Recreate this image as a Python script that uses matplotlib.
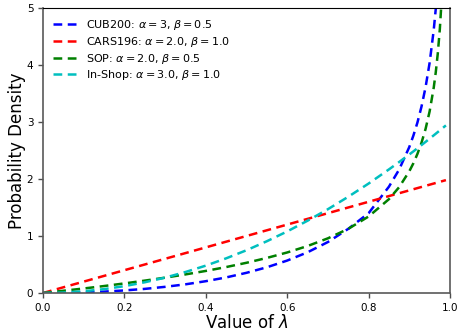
import matplotlib
matplotlib.use('Agg')
import matplotlib.pyplot as plt

# ------------------------------------------------------------
# values
# ------------------------------------------------------------
lam = [0.0, 0.05, 0.10, 0.15, 0.20, 0.25, 0.30, 0.35, 0.40, 0.45,
       0.50, 0.55, 0.60, 0.65, 0.70, 0.75, 0.80, 0.85, 0.875, 0.90,
       0.91, 0.92, 0.93, 0.94, 0.95, 0.96, 0.965, 0.97, 0.975, 0.98,
       0.985, 0.99]

cub200 = [0.0, 0.003, 0.011, 0.024, 0.045, 0.072, 0.108, 0.152, 0.207, 0.273,
          0.354, 0.451, 0.569, 0.714, 0.894, 1.125, 1.40, 1.865, 2.165, 2.56,
          2.76, 2.99, 3.27, 3.61, 4.04, 4.61, 4.98, 5.43, 6.01, 6.79,
          7.92, 9.80]
cars196 = [0.0, 0.10, 0.20, 0.30, 0.40, 0.50, 0.60, 0.70, 0.80, 0.90,
           1.00, 1.10, 1.20, 1.30, 1.40, 1.50, 1.60, 1.70, 1.75, 1.80,
           1.82, 1.84, 1.86, 1.88, 1.90, 1.92, 1.93, 1.94, 1.95, 1.96,
           1.97, 1.98]
sop = [0.0, 0.039, 0.079, 0.122, 0.168, 0.217, 0.269, 0.326, 0.387, 0.455,
       0.530, 0.615, 0.711, 0.824, 0.959, 1.125, 1.342, 1.646, 1.856, 2.135,
       2.275, 2.44, 2.636, 2.878, 3.187, 3.60, 3.869, 4.20, 4.625, 5.20,
       6.031, 7.43]
inshop = [0.0, 0.008, 0.030, 0.068, 0.120, 0.188, 0.270, 0.368, 0.480, 0.608,
          0.750, 0.908, 1.080, 1.268, 1.470, 1.688, 1.920, 2.168, 2.297, 2.430,
          2.484, 2.539, 2.595, 2.651, 2.708, 2.765, 2.794, 2.823, 2.852, 2.881,
          2.911, 2.940]

labels = [r'CUB200: $\alpha=3$, $\beta=0.5$',
          r'CARS196: $\alpha=2.0$, $\beta=1.0$',
          r'SOP: $\alpha=2.0$, $\beta=0.5$',
          r'In-Shop: $\alpha=3.0$, $\beta=1.0$']
colors = ['b', 'r', 'g', 'c']

fig = plt.figure(figsize=(4.58, 3.32), dpi=100)
ax = fig.add_axes([0.094, 0.1175, 0.8885, 0.8585])

for ys, lab, col in zip([cub200, cars196, sop, inshop], labels, colors):
    ax.plot(lam, ys, '--', color=col, lw=1.8, label=lab, dashes=(3.5, 2.2))

ax.set_xlim(0, 1.0)
ax.set_ylim(0, 5)
ax.set_xticks([0.0, 0.2, 0.4, 0.6, 0.8, 1.0])
ax.set_yticks([0, 1, 2, 3, 4, 5])
ax.tick_params(labelsize=7.5, length=3.5, width=1, color='0.3')
ax.set_xlabel(r'Value of $\lambda$', fontsize=12, labelpad=1)
ax.set_ylabel('Probability Density', fontsize=12, labelpad=0.5)

for side in ['left', 'bottom', 'right']:
    ax.spines[side].set_color('0.35')
    ax.spines[side].set_linewidth(1.2)
ax.spines['top'].set_color('black')

ax.legend(loc='upper left', frameon=False, fontsize=8, handlelength=2.2,
          borderaxespad=0.5, labelspacing=0.25)

fig.savefig('out.png', dpi=100)
